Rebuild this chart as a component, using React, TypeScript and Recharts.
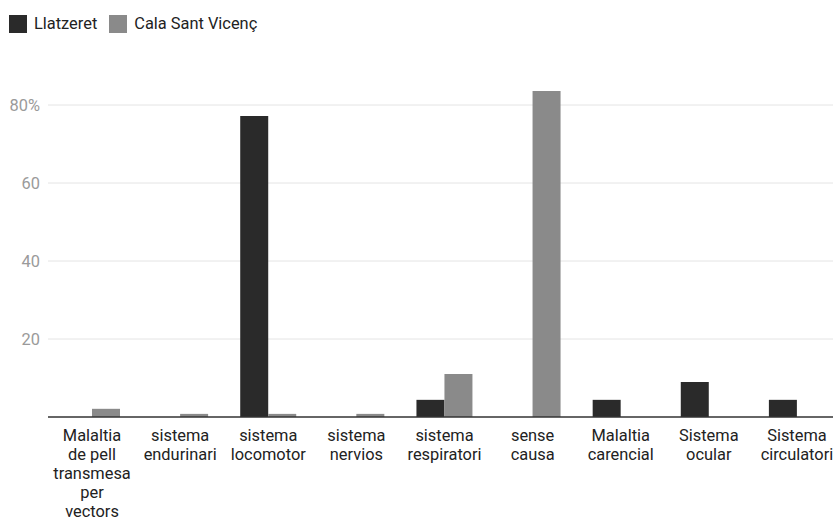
import React from 'react';
import { BarChart, Bar, XAxis, YAxis, CartesianGrid, Legend } from 'recharts';

const categories = [
  'Malaltia de pell transmesa per vectors',
  'sistema endurinari',
  'sistema locomotor',
  'sistema nervios',
  'sistema respiratori',
  'sense causa',
  'Malaltia carencial',
  'Sistema ocular',
  'Sistema circulatori',
];
const tickLines: string[][] = [
  ['Malaltia', 'de pell', 'transmesa', 'per', 'vectors'],
  ['sistema', 'endurinari'],
  ['sistema', 'locomotor'],
  ['sistema', 'nervios'],
  ['sistema', 'respiratori'],
  ['sense', 'causa'],
  ['Malaltia', 'carencial'],
  ['Sistema', 'ocular'],
  ['Sistema', 'circulatori'],
];
const llatzeret = [0, 0, 77.2, 0, 4.4, 0, 4.4, 9.0, 4.4];
const calaSantVicenc = [2.1, 0.8, 0.8, 0.8, 11.0, 83.6, 0, 0, 0];
const seriesNames = ['Llatzeret', 'Cala Sant Vicenç'];
const seriesColors = ['#2a2a2a', '#8a8a8a'];
const yTicks = [20, 40, 60, 80];

const data = categories.map((c, i) => ({
  name: c,
  a: llatzeret[i],
  b: calaSantVicenc[i],
}));

const XTick = (props: any) => {
  const { x, y, payload } = props;
  const lines = tickLines[payload.index] || [String(payload.value)];
  return (
    <text x={x} y={y} textAnchor="middle" fill="#222" fontSize={16.4} fontFamily="Roboto">
      {lines.map((l, i) => (
        <tspan key={i} x={x} y={y + 16 + i * 19}>
          {l}
        </tspan>
      ))}
    </text>
  );
};

const GridLine = (props: any) => {
  const { x1, y1, x2, y2, y, height } = props;
  if (typeof y === 'number' && (Math.abs(y1 - y) < 1 || Math.abs(y1 - (y + height)) < 1)) {
    return <g />;
  }
  return <line x1={x1} y1={y1} x2={x2} y2={y2} stroke="#e4e4e4" strokeWidth={1} />;
};

const LegendContent = () => (
  <div style={{ height: 58, display: 'flex', alignItems: 'flex-start', fontFamily: 'Roboto', fontSize: 16.4, color: '#222' }}>
    {seriesNames.map((n, i) => (
      <div key={n} style={{ display: 'flex', alignItems: 'center', marginTop: 6, marginLeft: i === 0 ? 1 : 12 }}>
        <div style={{ width: 18, height: 18, background: seriesColors[i], marginRight: 7 }} />
        <span>{n}</span>
      </div>
    ))}
  </div>
);

export default function App() {
  return (
    <div
      style={{
        width: 833,
        height: 518,
        boxSizing: 'border-box',
        padding: '8px 0 0 8px',
        overflow: 'hidden',
        fontFamily: 'Roboto',
        background: '#fff',
      }}
    >
      <style>{'body{margin:0}'}</style>
      <BarChart
        width={833}
        height={510}
        data={data}
        margin={{ top: 0, right: 0, bottom: 0, left: 0 }}
        barCategoryGap={16}
        barGap={0}
      >
        <Legend
          verticalAlign="top"
          align="left"
          content={<LegendContent />}
          wrapperStyle={{ top: 0, left: 0 }}
        />
        <CartesianGrid vertical={false} horizontal={(p: any) => <GridLine key={p.key} {...p} />} />
        <XAxis
          dataKey="name"
          height={101}
          tick={<XTick />}
          tickLine={false}
          axisLine={{ stroke: '#333', strokeWidth: 1.5 }}
          interval={0}
        />
        <YAxis
          width={40}
          domain={[0, 90]}
          ticks={yTicks}
          tickFormatter={(v: number) => (v === 80 ? '80%' : String(v))}
          tick={{ fill: '#9a9a9a', fontSize: 16.4, fontFamily: 'Roboto' }}
          tickLine={false}
          axisLine={false}
        />
        <Bar dataKey="a" name={seriesNames[0]} fill={seriesColors[0]} isAnimationActive={false} />
        <Bar dataKey="b" name={seriesNames[1]} fill={seriesColors[1]} isAnimationActive={false} />
      </BarChart>
    </div>
  );
}
